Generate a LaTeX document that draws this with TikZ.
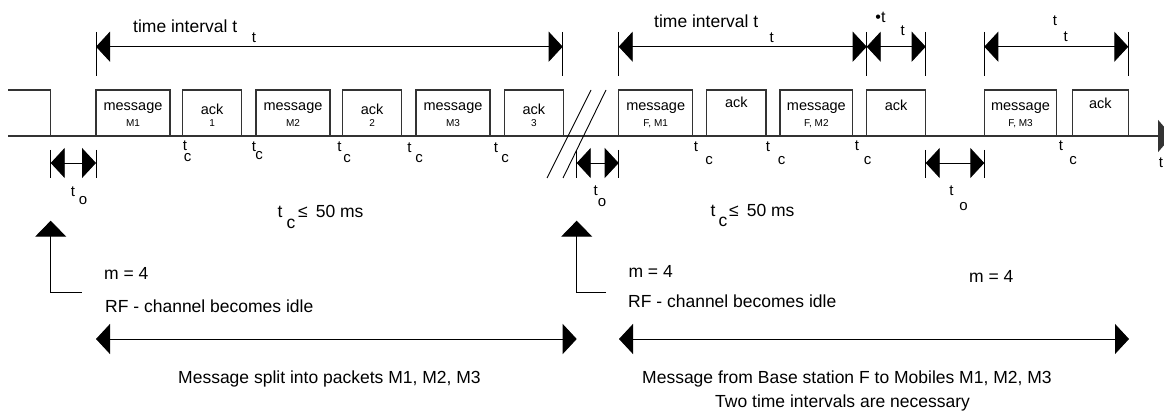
\documentclass[tikz,border=0pt]{standalone}
\usepackage{fontspec}
\setmainfont{Liberation Sans}
\usetikzlibrary{arrows.meta,positioning}

\tikzset{
    axis/.style={line width=2pt, draw=black!80, -{Triangle[length=14pt,width=32pt]}},
    packet/.style={line width=1.4pt, draw=black!80},
    tick/.style={line width=0.9pt},
    span/.style={line width=0.9pt, {Triangle[length=14pt,width=30pt]}-{Triangle[length=14pt,width=30pt]}},
    uparrow/.style={line width=0.9pt, -{Triangle[length=16pt,width=31pt]}},
    txt/.style={inner sep=0pt, anchor=base, font=\fontsize{15}{18}\selectfont},
    big/.style={inner sep=0pt, anchor=base west, font=\fontsize{17.5}{21}\selectfont},
    boxtext/.style={inner sep=0pt, anchor=base, font=\fontsize{14.5}{17}\selectfont},
    subtext/.style={inner sep=0pt, anchor=base, font=\fontsize{10}{12}\selectfont},
}

\begin{document}
\begin{tikzpicture}[x=1pt,y=-1pt]
    \useasboundingbox (0,0) rectangle (1164,411);
    % time axis
    \coordinate (axis_start) at (8,136);
    \coordinate (axis_end) at (1172,136);
    \draw[axis] (axis_start) -- (axis_end);
    \node[txt] (axis_label) at (1161,168) {t};
    % channel busy before
    \draw[packet] (8,90) -- (50.7,90) -- (50.7,136);
    % packets
    \foreach \xa/\xb/\txt/\sub/\yb [count=\i] in {
        96/170/message/M1/111, 182.7/241.7/ack/1/115,
        256/330/message/M2/111, 342.7/401.7/ack/2/115,
        416/490/message/M3/111, 504.3/563.3/ack/3/115,
        {618.7/692.7/message/F, M1/111}, {780/852.7/message/F, M2/111},
        {984.3/1056.7/message/F, M3/111}}{
        \draw[packet] (\xa,136) -- (\xa,90) -- (\xb,90) -- (\xb,136);
        \node[boxtext] (pk\i) at ({(\xa+\xb)/2},\yb) {\txt};
        \node[subtext] (pk\i_sub) at ({(\xa+\xb)/2},127) {\sub};
    }
    \foreach \xa/\xb/\yb [count=\i] in {706.7/766/108, 866.7/925.7/111, 1072.3/1128.3/109}{
        \draw[packet] (\xa,136) -- (\xa,90) -- (\xb,90) -- (\xb,136);
        \node[boxtext] (ackF\i) at ({(\xa+\xb)/2},\yb) {ack};
    }
    % break in time axis
    \draw[line width=0.9pt] (591,90) -- (547,178);
    \draw[line width=0.9pt] (606,90) -- (563,178);
    % time intervals on top
    \foreach \x [count=\i] in {96, 562.7, 618.7, 866.7, 925.7, 984.3, 1128.3}{
        \draw[tick] (\x,32) -- (\x,76);
        \coordinate (top\i) at (\x,46.7);
    }
    \draw[span] (top1) -- (top2);
    \draw[span] (top3) -- (top4);
    \draw[span] (top4) -- (top5);
    \draw[span] (top6) -- (top7);
    \node[big] (int_l) at (133,33) {time interval t};
    \node[txt] (int_l_sub) at (254,43) {t};
    \node[big] (int_r) at (654,28) {time interval t};
    \node[txt] (int_r_sub) at (771.7,43) {t};
    \node[txt, font=\fontsize{16}{18}\selectfont] (dt_a) at (880.5,23) {•t};
    \node[txt] (dt_b) at (902.7,36) {t};
    \node[txt] (int_x_a) at (1055,26) {t};
    \node[txt] (int_x_b) at (1065.7,41.7) {t};
    % t_c labels
    \foreach \xt/\yt/\xc/\yc [count=\i] in {185/151/187.5/161.5, 254/152/259/160,
        339.5/152/347/163, 409.5/153/419/163, 496/153/505/163, 696/152/709/165,
        768/152/781.7/165, 857/151/867.5/165, 1061/151/1073/165}{
        \node[txt] (tc\i) at (\xt,\yt) {t};
        \node[txt] (tc\i_c) at (\xc,\yc) {c};
    }
    % t_o intervals
    \foreach \x [count=\i] in {50.7, 96, 576.7, 618.7, 925.7, 984.3}{
        \draw[tick] (\x,150) -- (\x,178);
        \coordinate (to\i) at (\x,163);
    }
    \draw[span] (to1) -- (to2);
    \draw[span] (to3) -- (to4);
    \draw[span] (to5) -- (to6);
    \foreach \xt/\yt/\xo/\yo [count=\i] in {73/197/83/205, 595.7/196/602/207, 951.5/196/963.5/211}{
        \node[txt] (to\i_t) at (\xt,\yt) {t};
        \node[txt] (to\i_o) at (\xo,\yo) {o};
    }
    % t_c limit
    \node[txt, font=\fontsize{17.5}{21}\selectfont] (tcmax_l_t) at (280,218) {t};
    \node[txt, font=\fontsize{17.5}{21}\selectfont] (tcmax_l_c) at (291,229) {c};
    \node[big] (tcmax_l) at (298,218) {≤\hspace{8pt}50 ms};
    \node[txt, font=\fontsize{17.5}{21}\selectfont] (tcmax_r_t) at (713,217) {t};
    \node[txt, font=\fontsize{17.5}{21}\selectfont] (tcmax_r_c) at (723,227) {c};
    \node[big] (tcmax_r) at (729,217) {≤\hspace{8pt}50 ms};
    % channel becomes idle
    \coordinate (idle_l_foot) at (81.7,292);
    \coordinate (idle_l_corner) at (50.7,292);
    \coordinate (idle_l_tip) at (50.7,220.7);
    \draw[uparrow] (idle_l_foot) -- (idle_l_corner) -- (idle_l_tip);
    \coordinate (idle_r_foot) at (606,292);
    \coordinate (idle_r_corner) at (576.7,292);
    \coordinate (idle_r_tip) at (576.7,220.7);
    \draw[uparrow] (idle_r_foot) -- (idle_r_corner) -- (idle_r_tip);
    \node[big] (m_l) at (104,280) {m = 4};
    \node[big] (rf_l) at (105,312.7) {RF - channel becomes idle};
    \node[big] (m_r) at (628.3,277.7) {m = 4};
    \node[big] (rf_r) at (628,307.3) {RF - channel becomes idle};
    \node[big] (m_x) at (969,283) {m = 4};
    % message spans
    \coordinate (msg_l_a) at (96,339);
    \coordinate (msg_l_b) at (576.7,339);
    \coordinate (msg_r_a) at (619,339);
    \coordinate (msg_r_b) at (1129,339);
    \draw[span] (msg_l_a) -- (msg_l_b);
    \draw[span] (msg_r_a) -- (msg_r_b);
    \node[big] (msg_l) at (178,383) {Message split into packets M1, M2, M3};
    \node[big] (msg_r) at (642,383) {Message from Base station F to Mobiles M1, M2, M3};
    \node[big] (msg_r2) at (715,407) {Two time intervals are necessary};
\end{tikzpicture}
\end{document}
